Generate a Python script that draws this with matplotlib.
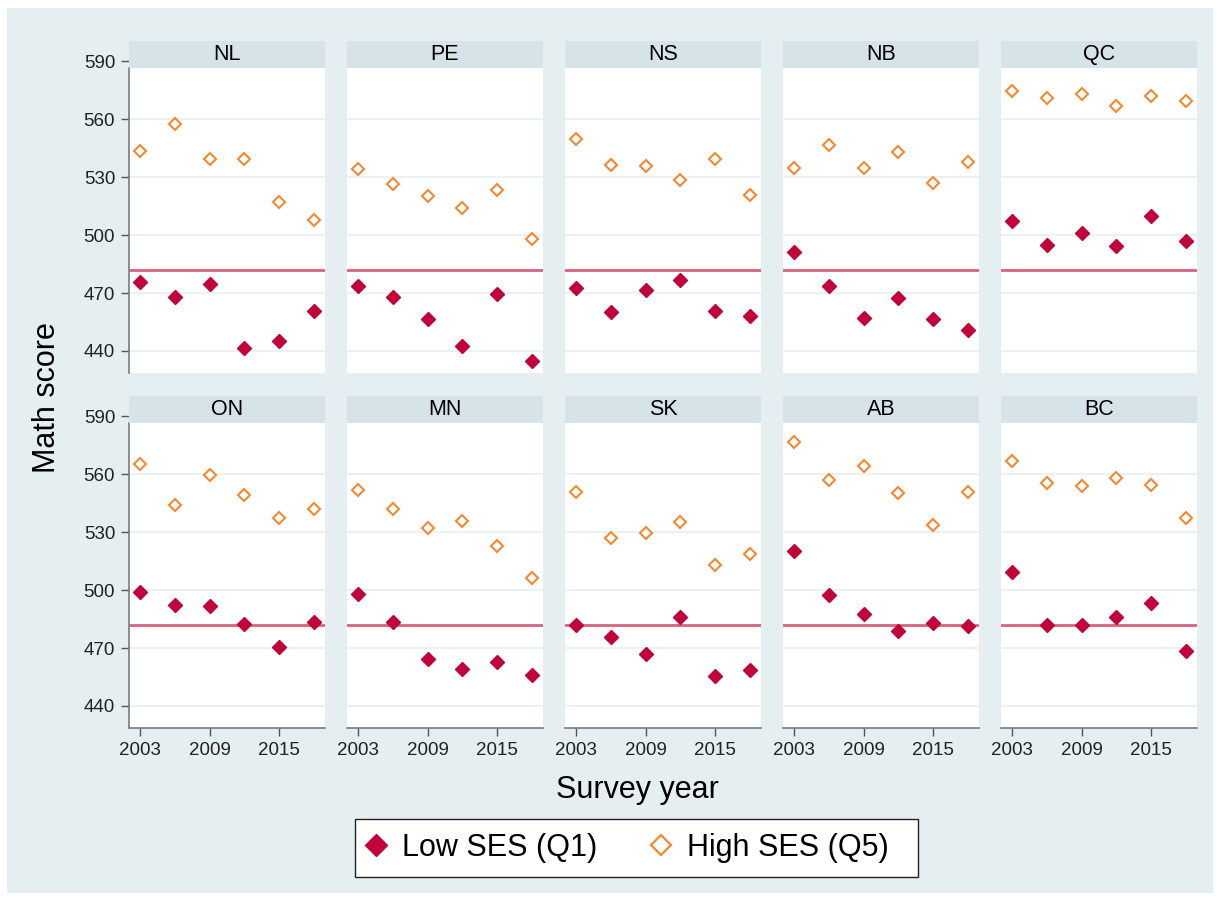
import matplotlib
matplotlib.use("Agg")
import matplotlib.pyplot as plt
from matplotlib.lines import Line2D
from matplotlib.patches import Rectangle

plt.rcParams['font.family'] = ['Liberation Sans', 'DejaVu Sans']

# data
years = [2003, 2006, 2009, 2012, 2015, 2018]
provinces = ['NL', 'PE', 'NS', 'NB', 'QC', 'ON', 'MN', 'SK', 'AB', 'BC']
low_ses = [
    [475.5, 467.8, 474.7, 441.4, 445.3, 460.5],  # NL
    [473.5, 467.9, 456.6, 442.6, 469.5, 434.7],  # PE
    [472.6, 460.2, 471.4, 476.9, 460.7, 458.0],  # NS
    [491.2, 473.5, 457.1, 467.3, 456.6, 450.7],  # NB
    [507.6, 495.0, 501.2, 494.3, 509.7, 497.1],  # QC
    [499.3, 492.4, 491.9, 482.4, 470.7, 483.6],  # ON
    [498.1, 483.3, 464.1, 459.0, 462.9, 455.9],  # MN
    [482.2, 475.5, 466.9, 485.9, 455.4, 458.5],  # SK
    [520.5, 497.6, 487.7, 478.6, 482.8, 481.6],  # AB
    [509.2, 481.8, 481.8, 486.2, 493.4, 468.3],  # BC
]
high_ses = [
    [543.8, 557.6, 539.5, 539.5, 517.2, 507.8],
    [534.5, 526.5, 520.5, 514.1, 523.3, 497.9],
    [549.7, 536.4, 536.0, 528.8, 539.6, 520.7],
    [534.7, 546.7, 534.7, 542.9, 527.2, 537.8],
    [574.7, 571.0, 573.3, 567.1, 572.1, 569.3],
    [565.2, 544.0, 559.6, 549.5, 537.6, 541.9],
    [551.7, 541.9, 532.4, 536.0, 522.9, 506.2],
    [551.0, 527.1, 529.6, 535.2, 512.8, 518.8],
    [576.9, 557.3, 564.5, 550.2, 533.6, 550.9],
    [566.7, 555.7, 554.0, 558.3, 554.5, 537.4],
]
ref_score = 482
yticks = [440, 470, 500, 530, 560, 590]
xticks = [2003, 2009, 2015]

low_col = '#c2003a'
high_col = '#f7882f'
ref_col = '#d8627c'
bg_col = '#e5eef1'
head_col = '#d6e4ea'
grid_col = '#eaf2f3'

W, H = 1217, 901
fig = plt.figure(figsize=(W / 100, H / 100), dpi=100)
fig.patch.set_facecolor('white')
fig.patches.append(Rectangle((7 / W, 1 - 893 / H), 1206 / W, 885 / H,
                             transform=fig.transFigure, facecolor=bg_col,
                             edgecolor='none', zorder=-10))

col_left = [129, 347, 565, 783, 1001]
row_top = [41, 396]
pw, ph = 196, 332
head_h = 27
ylo, yhi = 428.6, 600.6
head_frac = head_h / ph
plot_top = ylo + (yhi - ylo) * (1 - head_frac)

for i, prov in enumerate(provinces):
    r, c = divmod(i, 5)
    ax = fig.add_axes([col_left[c] / W, 1 - (row_top[r] + ph) / H, pw / W, ph / H])
    ax.set_facecolor('white')
    ax.set_xlim(2002.05, 2018.97)
    ax.set_ylim(ylo, yhi)
    ax.set_yticks(yticks)
    ax.set_xticks(xticks)
    ax.grid(axis='y', color=grid_col, lw=1.5, zorder=0)
    ax.set_axisbelow(True)
    ax.axhline(ref_score, color=ref_col, lw=2, zorder=2)
    ax.plot(years, low_ses[i], ls='none', marker='D', ms=6.7, color=low_col, zorder=3)
    ax.plot(years, high_ses[i], ls='none', marker='D', ms=5.9, mfc='white',
            mec=high_col, mew=1.5, zorder=3)

    # strip header
    ax.add_patch(Rectangle((0, 1 - head_frac), 1, head_frac, transform=ax.transAxes,
                           facecolor=head_col, edgecolor='none', zorder=5, clip_on=False))
    ax.text(0.5, 1 - head_frac / 2, prov, transform=ax.transAxes, ha='center',
            va='center', fontsize=15.5, zorder=6)

    for s in ['top', 'right']:
        ax.spines[s].set_visible(False)
    ax.spines['left'].set_color('#7a7a7a')
    ax.spines['left'].set_linewidth(1.2)
    ax.spines['left'].set_bounds(ylo, plot_top)
    ax.spines['bottom'].set_color('#7a7a7a')
    ax.spines['bottom'].set_linewidth(1.2)
    ax.tick_params(axis='both', colors='#555555', labelcolor='#222222',
                   labelsize=13.5, length=6, width=1, pad=4)

    if c != 0:
        ax.spines['left'].set_visible(False)
        ax.tick_params(axis='y', left=False, labelleft=False)
    if r == 0:
        ax.spines['bottom'].set_visible(False)
        ax.tick_params(axis='x', bottom=False, labelbottom=False)

fig.text(47 / W, 1 - 398 / H, 'Math score', rotation=90, ha='center', va='center',
         fontsize=22)
fig.text(637 / W, 1 - 790 / H, 'Survey year', ha='center', va='center', fontsize=22)

# legend box drawn separately so its size matches the original
fig.patches.append(Rectangle((355 / W, 1 - 877 / H), 563 / W, 58 / H,
                             transform=fig.transFigure, facecolor='white',
                             edgecolor='#222222', lw=1.0, zorder=1))
handles = [
    Line2D([], [], ls='none', marker='D', ms=11.7, color=low_col),
    Line2D([], [], ls='none', marker='D', ms=10.6, mfc='white', mec=high_col, mew=1.6),
]
leg = fig.legend(handles, ['Low SES (Q1)', 'High SES (Q5)'], loc='center left',
                 bbox_to_anchor=(355 / W, 1 - 848 / H), ncol=2, fontsize=22,
                 frameon=False, borderpad=0.18, handlelength=1.0,
                 handletextpad=0.37, columnspacing=1.56, borderaxespad=0)

fig.savefig('out.png', dpi=100, facecolor='white')
